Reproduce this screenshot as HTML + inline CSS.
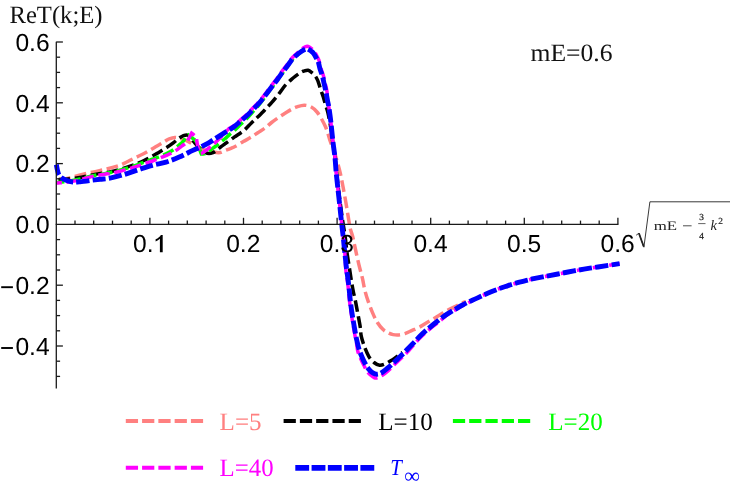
<!DOCTYPE html>
<html><head><meta charset="utf-8"><title>ReT(k;E)</title>
<style>
html,body{margin:0;padding:0;background:#fff;}
body{width:731px;height:495px;overflow:hidden;font-family:"Liberation Sans",sans-serif;}
svg{display:block;will-change:transform;}
text{text-rendering:geometricPrecision;}
</style></head><body>
<svg width="731" height="495" viewBox="0 0 731 495">
<rect width="731" height="495" fill="#fff"/>
<path d="M56.4 179.6C57.0 179.6 58.0 179.6 60.0 179.3C62.0 179.1 65.4 178.7 68.4 178.1C71.5 177.5 74.3 176.5 78.3 175.5C82.3 174.5 87.7 173.2 92.4 172.1C97.1 171.0 102.5 170.0 106.6 169.0C110.7 168.0 114.2 167.1 117.1 166.2C120.0 165.3 121.8 164.5 124.1 163.4C126.4 162.3 128.8 161.0 131.2 159.8C133.6 158.6 135.9 157.5 138.3 156.3C140.7 155.1 143.1 154.1 145.4 152.8C147.8 151.5 150.1 150.1 152.4 148.7C154.8 147.3 157.4 145.7 159.5 144.5C161.6 143.2 163.4 142.2 165.0 141.3C166.6 140.3 167.5 139.5 169.2 138.9C170.8 138.3 173.0 137.6 174.9 137.5C176.8 137.4 178.6 138.1 180.5 138.6C182.4 139.1 184.2 139.5 186.5 140.6C188.8 141.7 191.9 143.7 194.2 145.0C196.5 146.3 198.2 147.4 200.4 148.4C202.6 149.4 205.1 150.2 207.4 150.8C209.8 151.5 212.4 152.0 214.5 152.3C216.6 152.6 218.4 152.8 220.2 152.5C221.9 152.2 223.1 151.3 225.0 150.6C226.9 149.9 229.8 148.8 231.5 148.1C233.2 147.4 233.0 147.6 235.0 146.5C237.0 145.4 240.7 143.1 243.3 141.6C245.9 140.1 248.1 139.0 250.4 137.6C252.8 136.2 254.9 134.7 257.4 133.0C259.9 131.3 263.2 129.3 265.6 127.6C268.0 125.8 269.4 124.2 271.6 122.5C273.8 120.8 276.4 119.0 278.6 117.5C280.8 116.0 282.9 114.6 285.0 113.3C287.1 112.0 289.0 110.7 291.0 109.6C293.0 108.5 294.8 107.5 297.0 106.8C299.2 106.1 301.8 105.2 304.2 105.2C306.6 105.2 309.2 105.9 311.3 107.0C313.4 108.1 315.4 110.1 317.0 112.0C318.6 113.9 319.8 115.8 321.2 118.3C322.6 120.8 324.3 124.1 325.5 126.8C326.7 129.5 327.5 132.1 328.3 134.6C329.1 137.1 329.4 139.0 330.4 141.7C331.3 144.4 332.8 147.5 334.0 151.0C335.2 154.5 336.5 159.0 337.6 162.8C338.7 166.7 339.6 169.8 340.5 174.1C341.4 178.3 342.4 183.4 343.3 188.3C344.2 193.2 345.3 199.1 346.1 203.8C346.9 208.5 347.5 212.6 348.2 216.6C348.9 220.6 349.4 224.6 350.1 227.9C350.8 231.2 351.7 232.8 352.6 236.3C353.5 239.8 354.3 244.3 355.4 249.0C356.4 253.7 357.7 259.7 358.9 264.6C360.1 269.6 361.5 274.4 362.5 278.7C363.5 283.0 363.9 286.7 364.9 290.5C365.8 294.3 366.9 297.6 368.2 301.3C369.5 305.0 371.0 309.1 372.5 312.6C374.0 316.1 375.6 319.7 377.4 322.5C379.2 325.3 381.2 327.8 383.1 329.6C385.0 331.4 387.0 332.3 388.7 333.1C390.4 333.9 391.4 334.3 393.1 334.6C394.8 334.9 396.6 335.1 398.7 334.9C400.8 334.7 403.3 334.1 405.5 333.3C407.7 332.6 409.8 331.4 412.1 330.4C414.4 329.4 416.8 328.6 419.1 327.4C421.5 326.2 423.8 324.5 426.2 323.1C428.6 321.7 430.9 320.3 433.3 318.9C435.7 317.5 438.0 316.0 440.4 314.6C442.8 313.2 445.0 311.7 447.4 310.4C449.8 309.1 452.1 308.1 454.5 306.9C456.9 305.7 459.7 304.2 461.6 303.3C463.5 302.4 465.3 301.9 466.0 301.6" fill="none" stroke="#ff8080" stroke-width="3.5" stroke-dasharray="11.64 4.64" stroke-dashoffset="13.72" stroke-linejoin="miter"/>
<path d="M56.4 179.8C57.0 179.8 58.4 179.7 60.0 179.6C61.6 179.5 63.0 179.5 66.0 179.2C69.0 178.9 73.9 178.5 78.3 177.8C82.7 177.1 87.7 175.8 92.4 174.9C97.1 174.0 103.7 172.8 106.6 172.4C109.5 171.9 107.1 172.6 110.0 171.9C112.9 171.2 119.4 169.6 124.1 168.1C128.8 166.6 134.8 164.6 138.3 163.2C141.9 161.8 143.1 161.1 145.4 159.9C147.8 158.7 150.1 157.4 152.4 156.1C154.8 154.8 157.1 153.3 159.5 151.9C161.9 150.5 164.2 149.1 166.6 147.6C168.9 146.1 171.9 144.0 173.6 142.7C175.3 141.4 175.9 140.7 177.0 139.8C178.1 139.0 178.9 138.3 180.0 137.6C181.1 136.9 182.4 136.0 183.5 135.6C184.6 135.2 185.8 134.8 186.8 134.9C187.8 135.0 188.5 135.8 189.3 136.4C190.1 137.1 190.6 137.8 191.5 138.8C192.4 139.8 193.5 141.3 194.6 142.6C195.7 143.9 196.8 145.3 198.0 146.5C199.2 147.7 200.7 149.0 201.9 150.0C203.1 151.0 203.8 151.8 205.0 152.4C206.2 153.0 207.7 153.6 209.0 153.6C210.3 153.6 211.8 153.1 213.0 152.6C214.2 152.1 215.2 151.4 216.5 150.4C217.8 149.4 219.7 147.7 221.1 146.6C222.5 145.5 223.7 144.8 225.0 143.8C226.3 142.9 227.5 142.1 229.1 140.9C230.7 139.8 232.2 138.6 234.6 136.9C237.0 135.2 240.9 132.9 243.7 130.6C246.5 128.3 249.1 125.1 251.4 122.9C253.7 120.7 255.4 119.2 257.4 117.3C259.3 115.4 261.4 113.5 263.1 111.8C264.8 110.1 266.1 108.5 267.5 107.0C268.9 105.5 269.8 104.8 271.6 102.7C273.5 100.6 276.3 97.1 278.6 94.2C280.9 91.3 283.1 87.8 285.2 85.4C287.3 83.0 289.4 81.2 291.2 79.6C293.0 78.0 294.3 77.0 295.8 75.9C297.3 74.8 298.7 73.8 300.0 73.0C301.3 72.2 302.1 71.7 303.5 71.2C304.9 70.8 306.7 70.0 308.1 70.3C309.6 70.6 311.0 71.9 312.2 72.8C313.4 73.7 314.3 74.6 315.2 75.9C316.1 77.2 316.8 78.3 317.7 80.4C318.6 82.5 319.4 85.7 320.3 88.5C321.2 91.3 322.4 94.3 323.3 97.0C324.2 99.7 324.7 102.2 325.5 104.9C326.3 107.6 327.2 109.5 328.0 113.0C328.8 116.5 329.7 121.3 330.5 126.0C331.3 130.7 331.9 135.8 332.6 141.0C333.3 146.2 334.2 151.7 334.9 157.0C335.6 162.3 336.0 167.4 336.6 172.7C337.2 178.0 337.8 183.3 338.4 188.7C339.0 194.1 339.8 199.6 340.5 205.0C341.2 210.4 341.9 215.8 342.7 221.1C343.5 226.4 344.5 231.8 345.2 237.0C345.9 242.2 346.3 247.5 347.0 252.6C347.7 257.7 348.6 262.6 349.3 267.4C350.1 272.2 350.8 277.5 351.5 281.6C352.2 285.7 352.7 288.7 353.4 292.0C354.1 295.3 354.8 297.9 355.5 301.3C356.2 304.7 356.8 308.4 357.6 312.6C358.4 316.9 359.6 322.9 360.2 326.8C360.8 330.8 360.5 332.8 361.3 336.3C362.1 339.8 363.5 344.2 364.8 347.6C366.1 351.0 367.5 354.3 369.0 356.8C370.5 359.3 372.2 361.1 374.0 362.5C375.8 363.9 377.7 365.1 379.6 365.3C381.5 365.5 383.5 364.6 385.3 363.9C387.1 363.2 388.8 362.0 390.3 361.1C391.8 360.2 393.1 359.4 394.5 358.4C395.9 357.4 397.7 356.2 399.0 355.2C400.3 354.2 401.9 352.9 402.5 352.5" fill="none" stroke="#000000" stroke-width="3.5" stroke-dasharray="11.64 4.64" stroke-dashoffset="14.17" stroke-linejoin="miter"/>
<path d="M56.4 182.6C57.3 182.5 59.7 182.3 62.0 182.0C64.3 181.7 67.0 181.4 70.0 180.9C73.0 180.4 76.3 179.8 80.0 179.0C83.7 178.2 88.0 176.8 92.4 175.8C96.8 174.8 102.5 174.0 106.6 173.2C110.7 172.4 112.9 172.0 117.0 170.9C121.1 169.8 126.5 168.4 131.2 166.9C135.9 165.4 140.7 163.4 145.4 161.7C150.1 160.0 156.0 158.0 159.5 156.7C163.0 155.3 164.2 154.8 166.6 153.6C168.9 152.4 171.5 151.0 173.6 149.6C175.7 148.2 177.5 146.4 179.1 145.0C180.7 143.6 182.2 142.4 183.4 141.1C184.6 139.8 185.2 138.0 186.1 137.0C186.9 136.0 188.1 135.3 188.5 135.0C189.0 135.4 190.3 136.7 191.5 137.6C192.7 138.5 194.4 139.5 195.4 140.6C196.4 141.7 196.9 142.7 197.6 144.0C198.2 145.3 198.7 146.8 199.3 148.5C199.9 150.2 201.1 153.1 201.4 154.0C201.8 154.0 203.2 154.1 204.0 153.9C204.8 153.7 205.3 153.5 206.5 152.8C207.7 152.1 209.3 150.7 211.0 149.5C212.7 148.3 214.8 146.9 216.5 145.6C218.2 144.3 219.6 142.8 221.0 141.7C222.4 140.5 223.5 140.0 225.0 138.7C226.5 137.4 228.3 135.6 230.0 134.1C231.7 132.7 233.2 131.6 235.0 130.0C236.8 128.4 238.5 126.4 240.5 124.5C242.5 122.6 244.9 120.5 246.8 118.5C248.8 116.5 250.3 114.8 252.2 112.6C254.1 110.4 256.6 107.8 258.4 105.6C260.2 103.4 261.6 101.5 263.1 99.5C264.6 97.5 265.9 95.7 267.5 93.5C269.1 91.3 270.9 88.8 272.6 86.5C274.3 84.2 275.9 82.2 277.6 79.9C279.3 77.6 281.0 75.0 282.7 72.7C284.4 70.4 286.1 68.3 287.7 66.1C289.3 63.9 290.9 61.3 292.3 59.7C293.7 58.0 294.8 57.3 296.0 56.2C297.2 55.1 298.1 54.3 299.3 53.4C300.5 52.4 302.4 51.0 303.0 50.6" fill="none" stroke="#00ff00" stroke-width="3.5" stroke-dasharray="11.64 4.64" stroke-dashoffset="3.43" stroke-linejoin="miter"/>
<path d="M56.4 183.0C57.0 183.0 58.7 182.9 60.0 182.8C61.3 182.7 62.6 182.8 64.3 182.6C66.0 182.4 67.7 182.1 70.0 181.7C72.3 181.3 74.3 181.3 78.0 180.4C81.7 179.5 87.6 177.5 92.4 176.4C97.2 175.3 103.7 174.3 106.6 173.8C109.5 173.4 107.1 174.3 110.0 173.7C112.9 173.1 119.4 171.4 124.1 170.1C128.8 168.8 133.6 167.4 138.3 165.9C143.0 164.4 147.7 162.8 152.4 161.0C157.1 159.2 163.3 156.7 166.6 155.3C169.9 153.9 170.3 153.6 172.1 152.7C173.9 151.8 175.7 150.7 177.3 149.6C178.9 148.5 180.4 147.2 181.9 146.0C183.4 144.8 185.3 143.7 186.5 142.4C187.7 141.2 188.0 140.0 188.8 138.5C189.7 136.9 191.1 134.1 191.6 133.2C192.0 133.5 193.2 134.3 194.0 135.0C194.8 135.7 195.8 136.4 196.2 137.2C196.6 138.0 196.5 138.9 196.7 140.0C196.9 141.1 196.9 142.2 197.2 143.5C197.4 144.8 197.8 146.3 198.2 148.0C198.6 149.7 199.5 152.8 199.8 153.8C200.3 153.6 201.6 153.4 202.6 152.8C203.6 152.2 204.6 151.5 206.0 150.4C207.4 149.3 209.7 147.5 211.1 146.4C212.5 145.3 213.2 144.5 214.2 143.6C215.2 142.7 216.0 142.0 217.2 140.8C218.4 139.6 219.7 138.3 221.6 136.4C223.5 134.5 226.4 131.0 228.3 129.2C230.3 127.5 231.7 127.3 233.6 125.8C235.5 124.4 237.7 122.3 239.8 120.5C241.8 118.8 244.1 117.0 246.1 115.1C248.0 113.3 249.5 111.6 251.4 109.6C253.4 107.7 255.8 105.3 257.6 103.2C259.5 101.2 260.8 99.5 262.4 97.5C263.9 95.6 265.2 93.9 266.8 91.8C268.3 89.8 270.2 87.3 271.9 85.0C273.5 82.8 275.2 80.8 276.9 78.5C278.5 76.3 280.3 73.7 281.9 71.4C283.6 69.2 285.3 67.0 286.9 64.8C288.6 62.7 290.2 60.1 291.6 58.5C292.9 56.8 294.1 55.9 295.3 54.7C296.5 53.5 297.7 52.6 298.9 51.5C300.2 50.4 301.5 49.0 302.8 48.2C304.1 47.3 305.8 46.4 306.9 46.3C308.0 46.1 308.8 46.7 309.7 47.2C310.6 47.7 311.4 48.4 312.3 49.3C313.2 50.2 314.2 51.2 315.2 52.7C316.2 54.2 317.4 57.0 318.1 58.4C318.8 59.9 318.8 59.7 319.3 61.4C319.8 63.1 320.4 66.3 321.1 68.8C321.8 71.3 322.9 73.8 323.6 76.4C324.3 79.0 324.8 81.9 325.4 84.4C326.0 86.9 326.7 89.0 327.0 91.6C327.3 94.2 327.1 97.3 327.4 100.0C327.7 102.7 328.4 104.0 329.0 108.0C329.6 112.0 330.5 118.6 331.1 124.0C331.7 129.4 332.2 135.0 332.8 140.5C333.4 146.0 334.3 151.4 334.9 156.8C335.5 162.2 335.7 167.4 336.2 172.7C336.7 178.0 337.3 183.3 337.9 188.7C338.5 194.1 339.1 199.6 339.7 205.0C340.3 210.4 340.8 215.8 341.4 221.1C342.0 226.4 342.6 231.8 343.2 237.0C343.8 242.2 344.4 247.2 344.8 252.6C345.2 258.0 345.3 263.8 345.8 269.3C346.3 274.8 347.4 280.4 348.0 285.7C348.6 290.9 348.9 295.4 349.5 300.8C350.1 306.2 351.0 312.3 351.9 317.8C352.8 323.3 353.9 329.9 354.7 334.0C355.4 338.1 355.9 339.3 356.4 342.2C356.9 345.1 357.1 348.6 357.8 351.3C358.5 354.0 359.5 355.8 360.5 358.2C361.5 360.6 362.9 363.3 364.0 365.5C365.1 367.7 366.0 369.8 367.1 371.4C368.2 373.0 369.3 373.9 370.5 374.9C371.7 375.9 373.0 377.1 374.1 377.6C375.2 378.1 375.9 378.2 377.3 377.8C378.7 377.4 380.6 376.4 382.4 375.2C384.2 374.1 386.2 372.5 388.0 370.9C389.8 369.3 391.6 367.5 393.4 365.7C395.2 363.9 397.0 362.2 399.0 360.3C401.0 358.4 403.6 356.0 405.4 354.2C407.2 352.4 407.9 351.6 409.6 349.7C411.3 347.8 413.9 344.6 415.6 342.7C417.3 340.8 417.8 340.1 419.7 338.2C421.6 336.3 424.4 333.7 426.8 331.6C429.2 329.5 431.5 327.6 433.9 325.7C436.3 323.8 438.7 322.0 441.0 320.1C443.3 318.2 445.4 316.1 447.7 314.5C450.0 312.9 452.4 311.7 454.8 310.3C457.2 308.9 459.6 307.4 461.9 306.1C464.3 304.8 466.4 303.8 468.9 302.5C471.4 301.2 474.6 299.4 477.1 298.1C479.6 296.8 481.8 295.9 484.1 294.8C486.5 293.8 488.8 292.8 491.2 291.8C493.6 290.8 495.9 289.9 498.3 289.0C500.7 288.1 503.0 287.3 505.4 286.5C507.8 285.7 510.0 284.9 512.4 284.2C514.8 283.5 517.1 282.8 519.5 282.2C521.9 281.6 524.2 281.0 526.6 280.4C529.0 279.8 530.6 279.3 533.6 278.7C536.6 278.1 540.9 277.3 544.9 276.5C548.9 275.7 553.1 274.9 557.9 274.0C562.7 273.1 568.6 271.9 573.9 270.9C579.2 269.9 584.1 269.1 589.9 268.2C595.7 267.3 603.6 266.1 608.6 265.4C613.6 264.6 617.8 264.0 619.6 263.7" fill="none" stroke="#ff00ff" stroke-width="3.5" stroke-dasharray="11.64 4.64" stroke-dashoffset="6.03" stroke-linejoin="miter"/>
<path d="M56.3 164.6C56.5 165.5 57.0 168.3 57.4 170.0C57.8 171.7 58.3 173.8 58.9 175.0C59.5 176.2 60.1 176.6 61.0 177.3C61.9 178.0 62.8 178.6 64.0 179.2C65.2 179.8 66.5 180.4 68.0 180.9C69.5 181.4 71.0 181.8 73.0 182.0C75.0 182.2 77.2 182.0 80.0 181.8C82.8 181.6 86.7 181.0 90.0 180.5C93.3 180.1 96.7 179.7 100.0 179.3C103.3 178.9 106.0 179.0 110.0 178.2C114.0 177.4 119.4 175.9 124.1 174.5C128.8 173.1 133.6 171.2 138.3 169.7C143.0 168.2 147.8 166.6 152.4 165.3C157.0 164.0 161.5 163.5 166.0 162.1C170.5 160.7 174.8 159.0 179.2 157.1C183.6 155.2 188.8 152.3 192.3 150.6C195.8 148.9 197.9 148.2 200.4 147.1C202.9 145.9 205.0 145.0 207.3 143.7C209.7 142.4 212.1 140.6 214.5 139.1C216.9 137.6 219.2 136.1 221.6 134.6C224.0 133.1 227.0 131.2 229.1 129.9C231.2 128.6 232.4 128.0 234.3 126.5C236.2 125.0 238.4 123.0 240.5 121.2C242.6 119.4 244.9 117.6 246.8 115.8C248.8 114.0 250.3 112.3 252.2 110.3C254.1 108.3 256.6 105.9 258.4 103.9C260.2 101.9 261.6 100.1 263.1 98.2C264.6 96.3 265.9 94.6 267.5 92.5C269.1 90.4 270.9 87.9 272.6 85.7C274.3 83.5 275.9 81.5 277.6 79.2C279.3 76.9 281.0 74.4 282.7 72.1C284.4 69.8 286.1 67.7 287.7 65.5C289.3 63.3 290.9 60.8 292.3 59.1C293.7 57.5 294.8 56.6 296.0 55.6C297.2 54.6 298.1 53.8 299.3 52.9C300.5 52.0 301.8 51.0 303.0 50.3C304.2 49.6 305.5 48.9 306.5 48.8C307.5 48.6 308.1 49.1 308.8 49.5C309.6 49.9 310.2 50.3 311.0 51.0C311.8 51.7 312.8 52.3 313.7 53.6C314.6 54.9 315.9 57.4 316.7 58.7C317.4 60.0 317.6 59.7 318.2 61.4C318.8 63.1 319.3 66.3 320.0 68.8C320.7 71.3 321.8 73.8 322.5 76.4C323.2 79.0 323.7 81.9 324.3 84.4C324.9 86.9 325.4 89.0 325.9 91.6C326.4 94.2 326.9 97.3 327.4 100.0C327.9 102.7 328.4 104.0 329.0 108.0C329.6 112.0 330.5 118.6 331.1 124.0C331.7 129.4 332.2 135.0 332.8 140.5C333.4 146.0 334.3 151.4 334.9 156.8C335.5 162.2 335.7 167.4 336.2 172.7C336.7 178.0 337.3 183.3 337.9 188.7C338.5 194.1 339.1 199.6 339.7 205.0C340.3 210.4 340.8 215.8 341.4 221.1C342.0 226.4 342.6 231.8 343.2 237.0C343.8 242.2 344.2 247.2 344.8 252.6C345.4 257.9 345.9 263.6 346.6 269.1C347.3 274.6 348.2 280.2 348.8 285.5C349.4 290.8 349.7 295.2 350.3 300.6C350.9 306.0 351.8 312.1 352.7 317.6C353.6 323.1 354.8 329.7 355.5 333.8C356.2 337.9 356.6 339.3 357.2 342.0C357.8 344.7 358.5 347.6 359.3 350.1C360.1 352.6 361.0 354.6 362.0 357.0C363.0 359.4 364.4 362.3 365.5 364.3C366.6 366.3 367.4 367.5 368.5 368.8C369.6 370.1 370.8 371.5 371.9 372.3C373.0 373.1 373.9 373.6 375.0 373.9C376.1 374.2 377.1 374.3 378.2 374.1C379.3 373.9 380.3 373.6 381.8 372.6C383.3 371.6 385.6 369.7 387.4 368.3C389.2 366.9 390.6 365.6 392.4 364.0C394.2 362.4 396.0 360.5 398.0 358.6C400.0 356.7 402.6 354.3 404.4 352.5C406.2 350.7 406.8 349.8 408.6 348.0C410.4 346.2 413.2 343.3 415.0 341.5C416.8 339.7 417.2 338.9 419.1 337.0C421.0 335.1 423.8 332.5 426.2 330.4C428.6 328.3 430.9 326.4 433.3 324.5C435.7 322.6 438.0 320.7 440.4 318.9C442.8 317.1 445.0 315.4 447.4 313.9C449.8 312.4 452.1 311.1 454.5 309.7C456.9 308.3 459.2 306.8 461.6 305.5C464.0 304.2 466.0 303.1 468.6 301.9C471.2 300.7 474.5 299.3 477.1 298.1C479.7 296.9 481.8 295.9 484.1 294.8C486.5 293.8 488.8 292.8 491.2 291.8C493.6 290.8 495.9 289.9 498.3 289.0C500.7 288.1 503.0 287.3 505.4 286.5C507.8 285.7 510.0 284.9 512.4 284.2C514.8 283.5 517.1 282.8 519.5 282.2C521.9 281.6 524.2 281.0 526.6 280.4C529.0 279.8 530.6 279.3 533.6 278.7C536.6 278.1 540.9 277.3 544.9 276.5C548.9 275.7 553.1 274.9 557.9 274.0C562.7 273.1 568.6 271.9 573.9 270.9C579.2 269.9 584.1 269.1 589.9 268.2C595.7 267.3 603.6 266.1 608.6 265.4C613.6 264.6 617.8 264.0 619.6 263.7" fill="none" stroke="#0000ff" stroke-width="4.9" stroke-dasharray="13.08 3.28" stroke-dashoffset="2.43" stroke-linejoin="miter"/>
<g stroke="#1a1a1a" stroke-width="1.3" fill="none">
<path d="M56.3 41.7V388.5"/>
<path d="M55.7 224.4H618.4"/>
<path d="M56.3 376.4h3.8"/>
<path d="M56.3 361.2h3.8"/>
<path d="M56.3 346.0h6.6"/>
<path d="M56.3 330.8h3.8"/>
<path d="M56.3 315.6h3.8"/>
<path d="M56.3 300.4h3.8"/>
<path d="M56.3 285.2h6.6"/>
<path d="M56.3 270.0h3.8"/>
<path d="M56.3 254.8h3.8"/>
<path d="M56.3 239.6h3.8"/>
<path d="M56.3 209.2h3.8"/>
<path d="M56.3 194.0h3.8"/>
<path d="M56.3 178.8h3.8"/>
<path d="M56.3 163.6h6.6"/>
<path d="M56.3 148.4h3.8"/>
<path d="M56.3 133.2h3.8"/>
<path d="M56.3 118.0h3.8"/>
<path d="M56.3 102.8h6.6"/>
<path d="M56.3 87.6h3.8"/>
<path d="M56.3 72.4h3.8"/>
<path d="M56.3 57.2h3.8"/>
<path d="M56.3 42.0h6.6"/>
<path d="M75.0 224.4v-3.8"/>
<path d="M93.7 224.4v-3.8"/>
<path d="M112.5 224.4v-3.8"/>
<path d="M131.2 224.4v-3.8"/>
<path d="M149.9 224.4v-6.6"/>
<path d="M168.6 224.4v-3.8"/>
<path d="M187.3 224.4v-3.8"/>
<path d="M206.1 224.4v-3.8"/>
<path d="M224.8 224.4v-3.8"/>
<path d="M243.5 224.4v-6.6"/>
<path d="M262.2 224.4v-3.8"/>
<path d="M280.9 224.4v-3.8"/>
<path d="M299.7 224.4v-3.8"/>
<path d="M318.4 224.4v-3.8"/>
<path d="M337.1 224.4v-6.6"/>
<path d="M355.8 224.4v-3.8"/>
<path d="M374.5 224.4v-3.8"/>
<path d="M393.3 224.4v-3.8"/>
<path d="M412.0 224.4v-3.8"/>
<path d="M430.7 224.4v-6.6"/>
<path d="M449.4 224.4v-3.8"/>
<path d="M468.1 224.4v-3.8"/>
<path d="M486.9 224.4v-3.8"/>
<path d="M505.6 224.4v-3.8"/>
<path d="M524.3 224.4v-6.6"/>
<path d="M543.0 224.4v-3.8"/>
<path d="M561.7 224.4v-3.8"/>
<path d="M580.5 224.4v-3.8"/>
<path d="M599.2 224.4v-3.8"/>
<path d="M617.9 224.4v-6.6"/>
</g>
<g font-family="Liberation Sans, sans-serif" font-size="24.6" fill="#000">
<text x="49.6" y="50.8" text-anchor="end">0.6</text>
<text x="49.6" y="111.6" text-anchor="end">0.4</text>
<text x="49.6" y="172.4" text-anchor="end">0.2</text>
<text x="49.6" y="233.2" text-anchor="end">0.0</text>
<text x="49.6" y="294.0" text-anchor="end">0.2</text>
<rect x="1.2" y="286.25" width="11.7" height="1.9"/>
<text x="49.6" y="354.8" text-anchor="end">0.4</text>
<rect x="1.2" y="347.05" width="11.7" height="1.9"/>
<text x="133.0" y="252.3">0.</text>
<path d="M162.7 252.3H159.9V238.7C158.8 239.8 157.3 240.8 155.6 241.6V239.3C158.2 238.1 160.1 236.5 160.9 234.9H162.7Z"/>
<text x="243.3" y="252.3" text-anchor="middle">0.2</text>
<text x="336.9" y="252.3" text-anchor="middle">0.3</text>
<text x="430.5" y="252.3" text-anchor="middle">0.4</text>
<text x="524.1" y="252.3" text-anchor="middle">0.5</text>
<text x="617.7" y="252.3" text-anchor="middle">0.6</text>
</g>
<g font-family="Liberation Serif, serif" font-size="25" fill="#111">
<text x="9.5" y="22.7" textLength="93" lengthAdjust="spacingAndGlyphs">ReT(k;E)</text>
<text x="530.5" y="60.9" textLength="82" lengthAdjust="spacingAndGlyphs">mE=0.6</text>
</g>
<g>
<path d="M636.2 235.2L638.9 233.2L643.9 247.2L649.9 201.8H730" fill="none" stroke="#222" stroke-width="0.9"/>
<path d="M638.9 233.2L643.7 246.5" fill="none" stroke="#222" stroke-width="1.8"/>
<g font-family="Liberation Serif, serif" fill="#222">
<text x="653.7" y="230.1" font-size="13" textLength="23.4" lengthAdjust="spacingAndGlyphs">mE</text>
<path d="M683 225.8H691.6" stroke="#222" stroke-width="0.8"/>
<text x="701.7" y="220.4" font-size="9.3" text-anchor="middle" stroke="#222" stroke-width="0.25">3</text>
<path d="M698.2 223.6H705.5" stroke="#222" stroke-width="0.7"/>
<text x="701.7" y="239.2" font-size="9.3" text-anchor="middle" stroke="#222" stroke-width="0.25">4</text>
<text x="710.4" y="230.1" font-size="14.5" font-style="italic">k</text>
<text x="718.3" y="224.3" font-size="9.4" stroke="#222" stroke-width="0.2">2</text>
</g></g>
<path d="M127.85 421.0H201.05" stroke="#ff8080" stroke-width="4.1" stroke-dasharray="8.14 8.14" stroke-linecap="square" fill="none"/>
<path d="M285.65 421.0H358.85" stroke="#000000" stroke-width="4.1" stroke-dasharray="8.14 8.14" stroke-linecap="square" fill="none"/>
<path d="M454.95 421.0H528.15" stroke="#00ff00" stroke-width="4.1" stroke-dasharray="8.14 8.14" stroke-linecap="square" fill="none"/>
<path d="M127.85 467.8H201.05" stroke="#ff00ff" stroke-width="4.1" stroke-dasharray="8.14 8.14" stroke-linecap="square" fill="none"/>
<path d="M298.15 467.9H371.45" stroke="#0000ff" stroke-width="5.7" stroke-dasharray="8.14 8.14" stroke-linecap="square" fill="none"/>
<g font-family="Liberation Serif, serif" font-size="25">
<text x="219.6" y="429.6" fill="#ff8080" textLength="42" lengthAdjust="spacingAndGlyphs">L=5</text>
<text x="378.3" y="429.6" fill="#000" textLength="54.5" lengthAdjust="spacingAndGlyphs">L=10</text>
<text x="548.3" y="429.6" fill="#00ff00" textLength="54.5" lengthAdjust="spacingAndGlyphs">L=20</text>
<text x="219.6" y="476.2" fill="#ff00ff" textLength="54" lengthAdjust="spacingAndGlyphs">L=40</text>
<text x="390.2" y="475.2" fill="#0000ff" font-style="italic" font-size="23" textLength="11.6" lengthAdjust="spacingAndGlyphs">T</text>
<text x="404.3" y="482.6" fill="#0000ff" font-size="22">∞</text>
</g>
</svg>
</body></html>
